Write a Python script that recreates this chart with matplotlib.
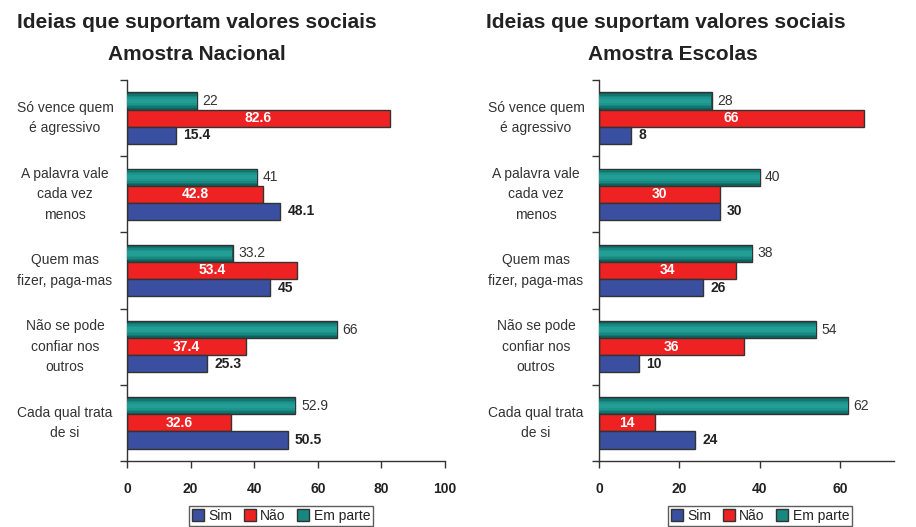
import matplotlib.pyplot as plt
import matplotlib.transforms as mtransforms
from matplotlib.patches import Patch

plt.rcParams['font.family'] = ['Liberation Sans', 'DejaVu Sans']

# categories (top to bottom)
categories = ["Só vence quem\né agressivo",
              "A palavra vale\ncada vez\nmenos",
              "Quem mas\nfizer, paga-mas",
              "Não se pode\nconfiar nos\noutros",
              "Cada qual trata\nde si"]

# Amostra Nacional
nac_sim = [15.4, 48.1, 45, 25.3, 50.5]
nac_nao = [82.6, 42.8, 53.4, 37.4, 32.6]
nac_parte = [22, 41, 33.2, 66, 52.9]

# Amostra Escolas
esc_sim = [8, 30, 26, 10, 24]
esc_nao = [66, 30, 34, 36, 14]
esc_parte = [28, 40, 38, 54, 62]

series_names = ["Sim", "Não", "Em parte"]

blue = "#3a4f9f"
red = "#ee2222"
teal_shades = ["#0d645e", "#127670", "#178780", "#1d958c", "#229e94"]
edge = "#333333"
txt = "#222222"


def fmt(v):
    return ("%g" % v)


def draw_panel(ax, sim, nao, parte, xmax, ticks, label_x):
    h = 0.224
    ys = list(range(len(categories)))
    y_parte = [y - h for y in ys]
    y_nao = ys
    y_sim = [y + h for y in ys]

    # teal bars with cylinder-like shading (dark edges, light middle)
    ax.barh(y_parte, parte, height=h, color=teal_shades[0], edgecolor=edge, linewidth=1.0, zorder=2)
    for k, col in enumerate(teal_shades[1:]):
        frac = 0.8 - 0.18 * k
        ax.barh(y_parte, [p - 0.15 for p in parte], left=0.1, height=h * frac,
                color=col, linewidth=0, zorder=3)
    ax.barh(y_nao, nao, height=h, color=red, edgecolor=edge, linewidth=1.0, zorder=2)
    ax.barh(y_sim, sim, height=h, color=blue, edgecolor=edge, linewidth=1.0, zorder=2)

    off = xmax * 0.018
    for i in ys:
        ax.text(parte[i] + off, y_parte[i], fmt(parte[i]), va="center", ha="left",
                fontsize=10, color="#333333")
        ax.text(nao[i] / 2, y_nao[i], fmt(nao[i]), va="center", ha="center",
                fontsize=10, color="white", fontweight="bold")
        ax.text(sim[i] + off * 1.3, y_sim[i], fmt(sim[i]), va="center", ha="left",
                fontsize=10, color=txt, fontweight="bold")

    ax.set_xlim(0, xmax)
    ax.set_ylim(len(categories) - 0.5, -0.5)
    ax.set_xticks(ticks)
    ax.set_xticklabels([str(t) for t in ticks], fontsize=10, fontweight="bold", color=txt)
    ax.set_yticks([i - 0.5 for i in range(len(categories) + 1)])
    ax.set_yticklabels([])
    ax.tick_params(axis="x", length=5, width=1, color=edge, pad=10)
    ax.tick_params(axis="y", length=5, width=1, color=edge)
    for s in ["top", "right"]:
        ax.spines[s].set_visible(False)
    for s in ["left", "bottom"]:
        ax.spines[s].set_color(edge)
        ax.spines[s].set_linewidth(1.0)

    trans = mtransforms.blended_transform_factory(ax.figure.transFigure, ax.transData)
    for i, c in enumerate(categories):
        ax.text(label_x, i, c, transform=trans, ha="center", va="center",
                fontsize=10, color="#333333", linespacing=1.6)


fig = plt.figure(figsize=(9.16, 5.27), dpi=100)

ax1 = fig.add_axes([127 / 916, 1 - 461 / 527, 318 / 916, 381 / 527])
draw_panel(ax1, nac_sim, nac_nao, nac_parte, 100, [0, 20, 40, 60, 80, 100], 65 / 916)

ax2 = fig.add_axes([599 / 916, 1 - 461 / 527, 295 / 916, 381 / 527])
draw_panel(ax2, esc_sim, esc_nao, esc_parte, 73.4, [0, 20, 40, 60], 536 / 916)

fig.text(197 / 916, 1 - 23 / 527, "Ideias que suportam valores sociais", ha="center", va="center",
         fontsize=15, fontweight="bold", color=txt)
fig.text(197 / 916, 1 - 55 / 527, "Amostra Nacional", ha="center", va="center",
         fontsize=15, fontweight="bold", color=txt)
fig.text(666 / 916, 1 - 23 / 527, "Ideias que suportam valores sociais", ha="center", va="center",
         fontsize=15, fontweight="bold", color=txt)
fig.text(673 / 916, 1 - 55 / 527, "Amostra Escolas", ha="center", va="center",
         fontsize=15, fontweight="bold", color=txt)

handles = [Patch(facecolor=blue, edgecolor=edge),
           Patch(facecolor=red, edgecolor=edge),
           Patch(facecolor=teal_shades[2], edgecolor=edge)]
for cx in [281 / 916, 760 / 916]:
    leg = fig.legend(handles, series_names, loc="upper center", bbox_to_anchor=(cx, 1 - 506 / 527),
                     ncol=3, fontsize=10, frameon=True, fancybox=False, handlelength=0.9,
                     handleheight=0.9, handletextpad=0.3, columnspacing=0.8,
                     borderpad=0.2, borderaxespad=0, edgecolor=edge)
    leg.get_frame().set_linewidth(1.0)
    for t in leg.get_texts():
        t.set_color(txt)

fig.savefig("out.png", dpi=100)
